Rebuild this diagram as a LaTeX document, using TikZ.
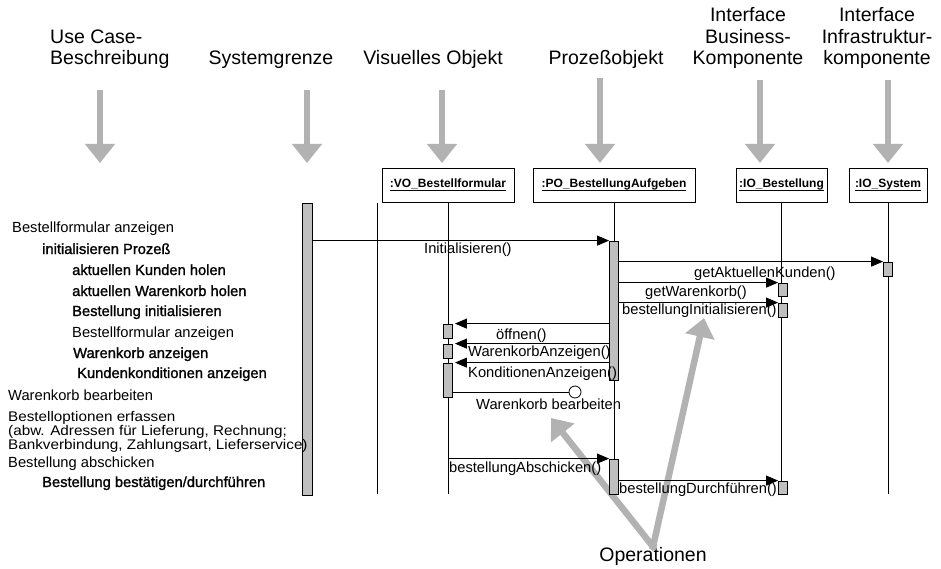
\documentclass[tikz,border=0pt]{standalone}
\usepackage{fontspec}
\setmainfont{Liberation Sans}
\newfontfamily\heavyfont[FakeBold=1.3]{Liberation Sans}
\newfontfamily\widefont[FakeStretch=1.09]{Liberation Sans}
\usetikzlibrary{arrows.meta}

\definecolor{calloutgray}{gray}{0.70}
\definecolor{barfill}{gray}{0.75}

% object name, underlined at the height of the underscore
\newcommand\objlabel[1]{\leavevmode\setbox0\hbox{#1}\rlap{\rule[-2.7pt]{\wd0}{0.7pt}}\box0}

\begin{document}
\begin{tikzpicture}[x=1pt,y=-1pt,
  hdr/.style={inner sep=0pt, font=\fontsize{19.5}{22}\selectfont},
  txt/.style={inner sep=0pt, anchor=base west, font=\fontsize{14.7}{16}\selectfont},
  emtxt/.style={inner sep=0pt, anchor=base west, font=\heavyfont\fontsize{14.7}{16}\selectfont},
  notetxt/.style={inner sep=0pt, anchor=base west, font=\widefont\fontsize{14}{14}\selectfont},
  objbox/.style={draw, line width=0.8pt, minimum height=34pt, inner sep=0pt,
                 font=\bfseries\fontsize{12}{14}\selectfont},
  lifeline/.style={line width=0.8pt},
  actbar/.style={draw, fill=barfill, line width=0.8pt, minimum width=9pt, inner sep=0pt},
  msg/.style={line width=1pt, -{Triangle[length=12pt,width=10pt]}},
  graypointer/.style={draw=calloutgray, line width=6.5pt, -{Triangle[length=19pt,width=29pt]}},
]
\path[use as bounding box] (0,0) rectangle (941,569);

% ---------- callout "Operationen" (drawn first, lies behind) ----------
\node[hdr, anchor=base] (ops) at (653,561) {Operationen};
\coordinate (tipL) at (551,418);
\coordinate (tipR) at (704,318);
\draw[graypointer, shorten <=-3pt] (ops.north) -- (tipL);
\draw[graypointer, shorten <=-3pt] (ops.north) -- (tipR);

% ---------- column headings ----------
\node[hdr, anchor=base west] (uc1) at (50,44) {Use Case-};
\node[hdr, anchor=base west] (uc2) at (50,65) {Beschreibung};
\node[hdr, anchor=base] (sg)   at (271,65) {Systemgrenze};
\node[hdr, anchor=base] (vis)  at (433,65) {Visuelles Objekt};
\node[hdr, anchor=base] (proz) at (606,65) {Prozeßobjekt};
\node[hdr, anchor=base] (ib1)  at (748,22) {Interface};
\node[hdr, anchor=base] (ib2)  at (748,44) {Business-};
\node[hdr, anchor=base] (ib3)  at (748,65) {Komponente};
\node[hdr, anchor=base] (ii1)  at (877,22) {Interface};
\node[hdr, anchor=base] (ii2)  at (877,44) {Infrastruktur-};
\node[hdr, anchor=base] (ii3)  at (877,65) {komponente};

\coordinate (ucTip)   at (100,163);
\coordinate (sgTip)   at (307,163);
\coordinate (visTip)  at (442,163);
\coordinate (prozTip) at (600,163);
\coordinate (ibTip)   at (760,163);
\coordinate (iiTip)   at (888,163);
\draw[graypointer, shorten <=21pt] (uc2.south -| ucTip) -- (ucTip);
\draw[graypointer, shorten <=21pt] (sg.south -| sgTip) -- (sgTip);
\draw[graypointer, shorten <=21pt] (vis.south -| visTip) -- (visTip);
\draw[graypointer, shorten <=9pt]  (proz.south -| prozTip) -- (prozTip);
\draw[graypointer, shorten <=11pt] (ib3.south -| ibTip) -- (ibTip);
\draw[graypointer, shorten <=11pt] (ii3.south -| iiTip) -- (iiTip);

% ---------- objects and lifelines ----------
\coordinate (bottom) at (0,494);
\node[objbox, minimum width=132pt] (vo)  at (448,185)   {\objlabel{:VO\_Bestellformular}};
\node[objbox, minimum width=162pt] (po)  at (614,185)   {\objlabel{:PO\_BestellungAufgeben}};
\node[objbox, minimum width=91pt]  (iob) at (781.5,185) {\objlabel{:IO\_Bestellung}};
\node[objbox, minimum width=78pt]  (ios) at (888,185)   {\objlabel{:IO\_System}};

\coordinate (actor) at (377,203);
\draw[lifeline] (actor) -- (actor |- bottom);
\draw[lifeline] (vo.south)  -- (vo |- bottom);
\draw[lifeline] (po.south)  -- (po |- bottom);
\draw[lifeline] (iob.south) -- (iob |- bottom);
\draw[lifeline] (ios.south) -- (ios |- bottom);

% ---------- activation bars ----------
\node[actbar, minimum width=10pt, minimum height=292pt] (sys) at (307.5,349) {};
\node[actbar, minimum height=139pt] (po1)  at (614,310.5) {};
\node[actbar, minimum height=35pt]  (po2)  at (614,476.5) {};
\node[actbar, minimum height=14pt]  (ios1) at (888,269)   {};
\node[actbar, minimum height=13pt]  (iob1) at (783,289.5) {};
\node[actbar, minimum height=14pt]  (iob2) at (783,310)   {};
\node[actbar, minimum height=13pt]  (iob3) at (783,487.5) {};
\node[actbar, minimum height=14pt]  (vo1)  at (448,331)   {};
\node[actbar, minimum height=14pt]  (vo2)  at (448,351)   {};
\node[actbar, minimum height=34pt]  (vo3)  at (448,380)   {};
\node[draw, circle, fill=white, line width=0.8pt, minimum size=12pt, inner sep=0pt] (done) at (575,392) {};

% ---------- messages ----------
\draw[msg] (sys.east |- po1.north) -- (po1.north west);
\draw[msg] (po1.east |- ios1.north) -- (ios1.north west);
\draw[msg] (po1.east |- iob1.north) -- (iob1.north west);
\draw[msg] (po1.east |- iob2.north) -- (iob2.north west);
\draw[msg, shorten >=2pt] (po1.west |- vo1.north) -- (vo1.north east);
\draw[msg, shorten >=2pt] (po1.west |- vo2.north) -- (vo2.north east);
\draw[msg, shorten >=2pt] (po1.west |- vo3.north) -- (vo3.north east);
\draw[lifeline] (vo3.east |- done) -- (done.west);
\draw[msg] (vo |- po2.north) -- (po2.north west);
\draw[msg] (po2.east |- iob3.north) -- (iob3.north west);

\node[txt] (m1)  at (424,253) {Initialisieren()};
\node[txt] (m2)  at (694,277) {getAktuellenKunden()};
\node[txt] (m3)  at (645,296) {getWarenkorb()};
\node[txt] (m4)  at (622,314) {bestellungInitialisieren()};
\node[txt] (m5)  at (496,339) {öffnen()};
\node[txt] (m6)  at (468,356) {WarenkorbAnzeigen()};
\node[txt] (m7)  at (468,377) {KonditionenAnzeigen()};
\node[txt] (m8)  at (476,409) {Warenkorb bearbeiten};
\node[txt] (m9)  at (449,472) {bestellungAbschicken()};
\node[txt] (m10) at (619,493) {bestellungDurchführen()};

% ---------- use case steps ----------
\node[txt]   (l1)  at (12,233) {Bestellformular anzeigen};
\node[emtxt] (l2)  at (42,254) {initialisieren Prozeß};
\node[emtxt] (l3)  at (72,275) {aktuellen Kunden holen};
\node[emtxt] (l4)  at (72,296) {aktuellen Warenkorb holen};
\node[emtxt] (l5)  at (72,316) {Bestellung initialisieren};
\node[txt]   (l6)  at (72,337) {Bestellformular anzeigen};
\node[emtxt] (l7)  at (73,358) {Warenkorb anzeigen};
\node[emtxt] (l8)  at (77,378) {Kundenkonditionen anzeigen};
\node[txt]   (l9)  at (8,400)  {Warenkorb bearbeiten};
\node[notetxt] (l10) at (8,421) {Bestelloptionen erfassen};
\node[notetxt] (l11) at (8,435) {(abw. Adressen für Lieferung, Rechnung;};
\node[notetxt] (l12) at (8,449) {Bankverbindung, Zahlungsart, Lieferservice)};
\node[txt]   (l13) at (8,467)  {Bestellung abschicken};
\node[emtxt] (l14) at (42,487) {Bestellung bestätigen/durchführen};
\end{tikzpicture}
\end{document}
